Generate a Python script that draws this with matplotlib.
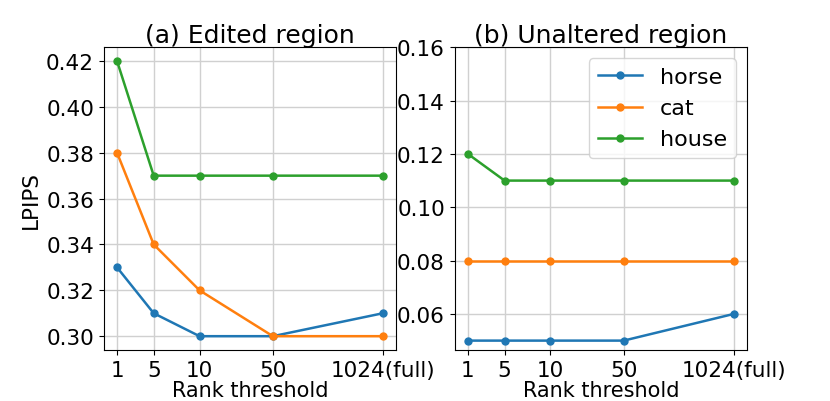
import matplotlib
matplotlib.use("Agg")
from matplotlib import pyplot as plt

ranks = ["1", "5", "10", "50", "1024(full)"]
rank_pos = [1, 5, 10, 18, 30]

edited = {
    "horse": [0.33, 0.31, 0.30, 0.30, 0.31],
    "cat": [0.38, 0.34, 0.32, 0.30, 0.30],
    "house": [0.42, 0.37, 0.37, 0.37, 0.37],
}
unaltered = {
    "horse": [0.05, 0.05, 0.05, 0.05, 0.06],
    "cat": [0.08, 0.08, 0.08, 0.08, 0.08],
    "house": [0.12, 0.11, 0.11, 0.11, 0.11],
}

fig, (ax1, ax2) = plt.subplots(1, 2, figsize=(8.3, 4.02), dpi=100)
fig.subplots_adjust(left=0.125, right=0.9, bottom=0.127, top=0.88, wspace=0.2)

for ax, data, title in [(ax1, edited, "(a) Edited region"),
                        (ax2, unaltered, "(b) Unaltered region")]:
    for name, vals in data.items():
        ax.plot(rank_pos, vals, marker="o", markersize=5, linewidth=1.8, label=name)
    ax.set_xticks(rank_pos)
    ax.set_xticklabels(ranks)
    ax.grid(True, color="#d0d0d0", linewidth=1)
    ax.tick_params(labelsize=15.5)
    ax.set_title(title, fontsize=18, pad=3)
    ax.set_xlabel("Rank threshold", fontsize=15, labelpad=0)

ax1.set_ylabel("LPIPS", fontsize=15.5)
ax1.set_yticks([0.30, 0.32, 0.34, 0.36, 0.38, 0.40, 0.42])
ax2.set_yticks([0.06, 0.08, 0.10, 0.12, 0.14, 0.16])
ax2.set_ylim(top=0.16)
ax2.legend(fontsize=16, loc="upper right")

fig.savefig("out.png", dpi=100)
